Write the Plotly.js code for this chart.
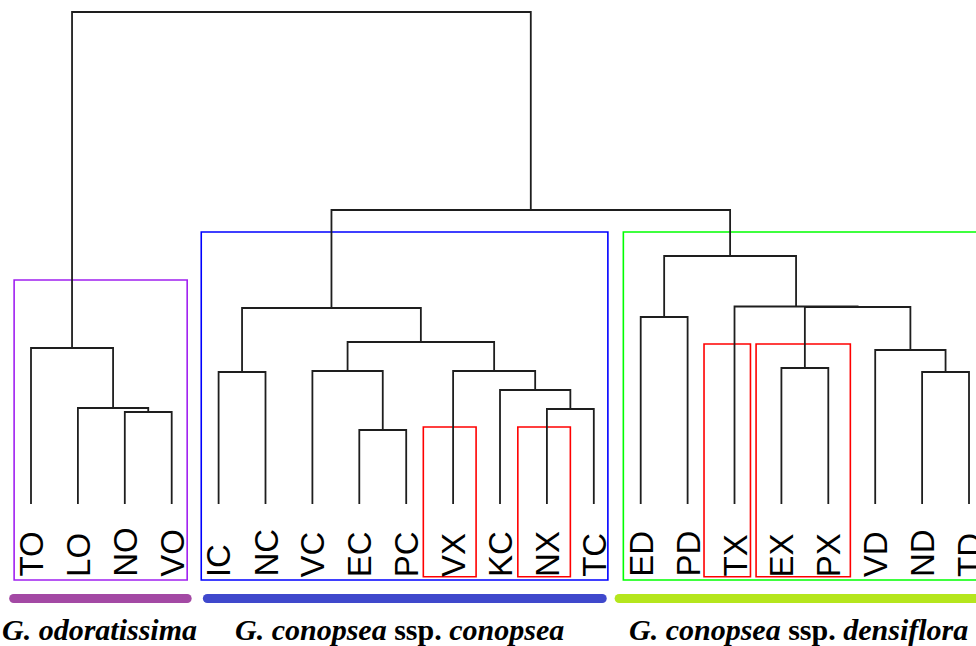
<!DOCTYPE html>
<html>
<head>
<meta charset="utf-8">
<script src="https://cdn.plot.ly/plotly-3.0.1.min.js"></script>
<style>
  html, body { margin: 0; padding: 0; background: #fff; }
  #chart { width: 976px; height: 646px; }
</style>
</head>
<body>
<div id="chart"></div>
<script>
// Populations (leaf order of the dendrogram)
const leaves = ['TO','LO','NO','VO','IC','NC','VC','EC','PC','VX','KC','NX','TC','ED','PD','TX','EX','PX','VD','ND','TD'];

// Agglomeration steps, hclust style: negative = leaf (1-based), positive = earlier step
const mergeLeft   = [-3, -2, -1, -5, -8, -7, -12, -11, -10,  6,  4, -14, -17, -20, -19, 13, -16, 12, 11,  3];
const mergeRight  = [-4,  1,  2, -6, -9,  5, -13,   7,   8,  9, 10, -15, -18, -21,  14, 15,  16, 17, 18, 19];
const mergeHeight = [0.92, 0.96, 1.56, 1.32, 0.74, 1.33, 0.95, 1.14, 1.33, 1.62, 1.96,
                     1.87, 1.36, 1.32, 1.54, 1.97, 1.975, 2.48, 2.94, 4.92];

// Taxa and the leaves each one spans
const groupNames = ['<b><i>G. odoratissima</i></b>',
                    '<b><i>G. conopsea</i> ssp. <i>conopsea</i></b>',
                    '<b><i>G. conopsea</i> ssp. <i>densiflora</i></b>'];
const groupFirst = ['TO', 'IC', 'ED'];
const groupLast  = ['VO', 'TC', 'TD'];

// Leaves outlined in red
const highlightSets = [['VX'], ['NX'], ['TX'], ['EX', 'PX']];

// ---- build the dendrogram segments ----
const nodeX = [], nodeH = [];
function pos(id) {
  if (id < 0) return { x: -id - 1, h: 0 };
  return { x: nodeX[id - 1], h: nodeH[id - 1] };
}
const segX = [], segY = [];
for (let i = 0; i < mergeHeight.length; i++) {
  const a = pos(mergeLeft[i]), b = pos(mergeRight[i]), h = mergeHeight[i];
  segX.push(a.x, a.x, b.x, b.x, null);
  segY.push(a.h, h, h, b.h, null);
  nodeX.push((a.x + b.x) / 2);
  nodeH.push(h);
}

const idx = n => leaves.indexOf(n);
const traces = [{
  x: segX, y: segY, mode: 'lines', type: 'scatter',
  line: { color: '#1e1e1e', width: 1.8 }, hoverinfo: 'skip'
}];

// ---- taxon outlines, bars and names ----
const boxColors = ['#a020f0', '#0000ff', '#00ff00'];
const barColors = ['#a349a4', '#3f48cc', '#b5e61d'];
const boxPad = [[-0.36, 0.33], [-0.37, 0.30], [-0.37, 0.45]];
const boxTop = [2.24, 2.72, 2.72];
const barPad = [[-0.37, 0.33], [-0.24, 0.18], [-0.46, 0.6]];
const nameX  = [1.45, 7.86, 16.37];

const shapes = [];
const annotations = [];
groupNames.forEach((name, g) => {
  const x0 = idx(groupFirst[g]), x1 = idx(groupLast[g]);
  shapes.push({
    type: 'rect', xref: 'x', yref: 'y',
    x0: x0 + boxPad[g][0], x1: x1 + boxPad[g][1], y0: -0.76, y1: boxTop[g],
    line: { color: boxColors[g], width: 1.6 }, fillcolor: 'rgba(0,0,0,0)', layer: 'below'
  });
  traces.push({
    x: [x0 + barPad[g][0], x1 + barPad[g][1]], y: [-0.945, -0.945],
    mode: 'lines+markers', type: 'scatter', hoverinfo: 'skip',
    line: { color: barColors[g], width: 9 },
    marker: { color: barColors[g], size: 9, line: { width: 0 } }
  });
  annotations.push({
    x: nameX[g], y: -1.25, xref: 'x', yref: 'y', text: name, showarrow: false,
    xanchor: 'center', yanchor: 'middle',
    font: { family: 'Liberation Serif', size: 30, color: '#000' }
  });
});

// red outlines: left/right padding around the enclosed leaves, and top height
const hlPad = [[-0.635, 0.49], [-0.62, 0.5], [-0.65, 0.34], [-0.54, 0.47]];
const hlTop = [0.77, 0.77, 1.6, 1.6];
highlightSets.forEach((set, k) => {
  const a = Math.min(...set.map(idx)), b = Math.max(...set.map(idx));
  shapes.push({
    type: 'rect', xref: 'x', yref: 'y',
    x0: a + hlPad[k][0], x1: b + hlPad[k][1], y0: -0.727, y1: hlTop[k],
    line: { color: '#ff0000', width: 1.6 }, fillcolor: 'rgba(0,0,0,0)', layer: 'below'
  });
});

// ---- leaf labels, rotated ----
leaves.forEach((name, i) => {
  annotations.push({
    x: i, y: -0.74, xref: 'x', yref: 'y', text: name, showarrow: false,
    textangle: -90, xanchor: 'center', yanchor: 'bottom', borderpad: 0,
    font: { family: 'Liberation Sans', size: 33, color: '#000' }
  });
});

const layout = {
  width: 976, height: 646,
  margin: { l: 0, r: 0, t: 0, b: 0 },
  paper_bgcolor: '#fff', plot_bgcolor: '#fff',
  showlegend: false,
  xaxis: { range: [-0.661, 20.149], visible: false, fixedrange: true },
  yaxis: { range: [-1.42, 5.04], visible: false, fixedrange: true },
  shapes: shapes,
  annotations: annotations
};

Plotly.newPlot('chart', traces, layout, { staticPlot: true, displayModeBar: false });
</script>
</body>
</html>
